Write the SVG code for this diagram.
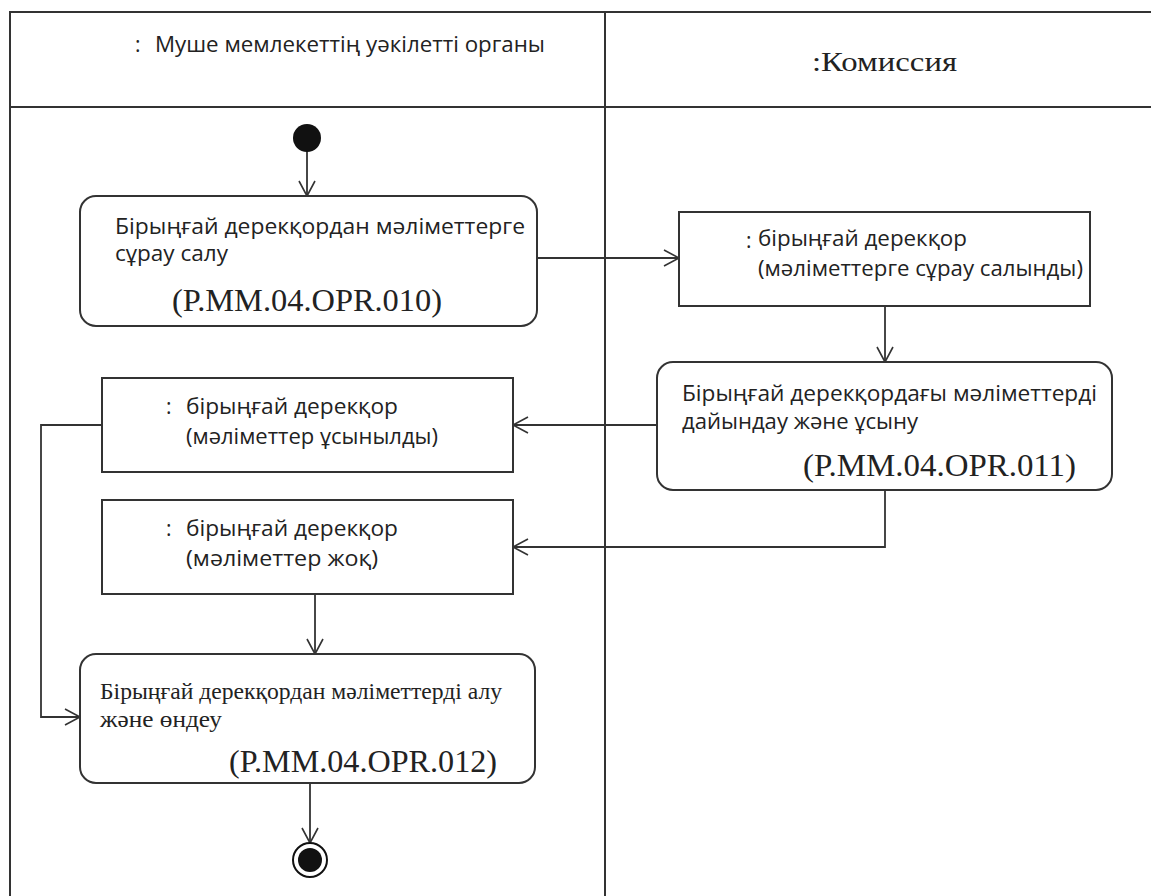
<svg xmlns="http://www.w3.org/2000/svg" width="1151" height="896" viewBox="0 0 1151 896">
<defs>
<marker id="arr" viewBox="0 0 20 20" refX="18" refY="10" markerWidth="20" markerHeight="20" markerUnits="userSpaceOnUse" orient="auto">
<path d="M3,2 L18,10 L3,18" fill="none" stroke="#333" stroke-width="1.6"/>
</marker>
<style>
.frame{fill:none;stroke:#333;stroke-width:2}
.box{fill:#fff;stroke:#333;stroke-width:2}
.line{fill:none;stroke:#333;stroke-width:1.8}
.sans{font-family:"Open Sans","DejaVu Sans",sans-serif;font-size:21px;fill:#222}
.serif{font-family:"Liberation Serif","DejaVu Serif","Times New Roman",serif;fill:#222}
.code{font-family:"Liberation Serif","DejaVu Serif","Times New Roman",serif;font-size:32px;fill:#222}
</style>
</defs>
<rect width="1151" height="896" fill="#fff"/>
<g id="frame">
<path class="frame" d="M10,900 L10,12 L1155,12 M10,107 L1155,107 M605,12 L605,900"/>
<text class="sans" y="52"><tspan x="135">:</tspan><tspan x="155" textLength="390" lengthAdjust="spacingAndGlyphs">Муше мемлекеттің уәкілетті органы</tspan></text>
<text class="serif" x="812" y="71" font-size="28" textLength="145" lengthAdjust="spacingAndGlyphs">:Комиссия</text>
</g>
<g id="connectors">
<line class="line" x1="307" y1="150" x2="307" y2="196" marker-end="url(#arr)"/>
<line class="line" x1="537" y1="258" x2="679" y2="258" marker-end="url(#arr)"/>
<line class="line" x1="885" y1="306" x2="885" y2="362" marker-end="url(#arr)"/>
<line class="line" x1="657" y1="425" x2="513" y2="425" marker-end="url(#arr)"/>
<polyline class="line" points="885,490 885,547 513,547" marker-end="url(#arr)"/>
<line class="line" x1="315" y1="594" x2="315" y2="654" marker-end="url(#arr)"/>
<polyline class="line" points="102,425 41,425 41,717 80,717" marker-end="url(#arr)"/>
<line class="line" x1="310" y1="783" x2="310" y2="843" marker-end="url(#arr)"/>
</g>
<g id="start"><circle cx="307" cy="138" r="14" fill="#111"/></g>
<g id="op010">
<rect class="box" x="80" y="196" width="457" height="130" rx="16"/>
<text class="sans" x="115" y="234" textLength="410" lengthAdjust="spacingAndGlyphs">Бірыңғай дерекқордан мәліметтерге</text>
<text class="sans" x="115" y="261" textLength="113" lengthAdjust="spacingAndGlyphs">сұрау салу</text>
<text class="code" x="172" y="311" textLength="270" lengthAdjust="spacingAndGlyphs">(P.MM.04.OPR.010)</text>
</g>
<g id="obj1">
<rect class="box" x="679" y="212" width="411" height="94"/>
<text class="sans" y="246"><tspan x="746" dy="2">:</tspan><tspan x="758" dy="-2" textLength="209" lengthAdjust="spacingAndGlyphs">бірыңғай дерекқор</tspan></text>
<text class="sans" x="758" y="276" textLength="325" lengthAdjust="spacingAndGlyphs">(мәліметтерге сұрау салынды)</text>
</g>
<g id="op011">
<rect class="box" x="657" y="362" width="455" height="128" rx="16"/>
<text class="sans" x="682" y="401" textLength="415" lengthAdjust="spacingAndGlyphs">Бірыңғай дерекқордағы мәліметтерді</text>
<text class="sans" x="682" y="429" textLength="236" lengthAdjust="spacingAndGlyphs">дайындау және ұсыну</text>
<text class="code" x="803" y="476" textLength="273" lengthAdjust="spacingAndGlyphs">(P.MM.04.OPR.011)</text>
</g>
<g id="obj2">
<rect class="box" x="102" y="378" width="411" height="94"/>
<text class="sans" y="414"><tspan x="166">:</tspan><tspan x="186" textLength="212" lengthAdjust="spacingAndGlyphs">бірыңғай дерекқор</tspan></text>
<text class="sans" x="186" y="444" textLength="252" lengthAdjust="spacingAndGlyphs">(мәліметтер ұсынылды)</text>
</g>
<g id="obj3">
<rect class="box" x="102" y="500" width="411" height="94"/>
<text class="sans" y="536"><tspan x="166">:</tspan><tspan x="186" textLength="212" lengthAdjust="spacingAndGlyphs">бірыңғай дерекқор</tspan></text>
<text class="sans" x="186" y="566" textLength="192" lengthAdjust="spacingAndGlyphs">(мәліметтер жоқ)</text>
</g>
<g id="op012">
<rect class="box" x="80" y="654" width="455" height="129" rx="16"/>
<text class="serif" x="100" y="699" font-size="23" textLength="402" lengthAdjust="spacingAndGlyphs">Бірыңғай дерекқордан мәліметтерді алу</text>
<text class="serif" x="100" y="727" font-size="23" textLength="122" lengthAdjust="spacingAndGlyphs">және өндеу</text>
<text class="code" x="229" y="772" textLength="268" lengthAdjust="spacingAndGlyphs">(P.MM.04.OPR.012)</text>
</g>
<g id="end">
<circle cx="310" cy="860" r="17" fill="#fff" stroke="#111" stroke-width="2"/>
<circle cx="310" cy="860" r="12" fill="#111"/>
</g>
</svg>
